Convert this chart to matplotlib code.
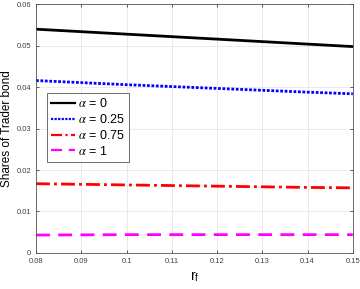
import matplotlib.pyplot as plt
import numpy as np

plt.rcParams['font.family'] = ['Liberation Sans', 'DejaVu Sans']
plt.rcParams['mathtext.fontset'] = 'stix'

rf = [0.08, 0.10, 0.12, 0.14, 0.15]
alpha0 = [0.0540, 0.0528, 0.0516, 0.0504, 0.0498]
alpha025 = [0.0416, 0.0406, 0.0397, 0.0388, 0.0384]
alpha075 = [0.0167, 0.0164, 0.0161, 0.0158, 0.0157]
alpha1 = [0.0043, 0.0044, 0.0044, 0.0044, 0.0044]

fig = plt.figure(figsize=(3.6, 2.89), dpi=100)
ax = fig.add_axes([0.1, 0.125, 0.88, 0.86])

ax.plot(rf, alpha0, color='black', lw=2, ls='-', label=r'$\alpha$ = 0')
ax.plot(rf, alpha025, color='blue', lw=2, ls=(0, (1, 0.6)), label=r'$\alpha$ = 0.25')
ax.plot(rf, alpha075, color='red', lw=2, ls=(0, (5, 1.5, 1, 1.5)), label=r'$\alpha$ = 0.75')
ax.plot(rf, alpha1, color='magenta', lw=2, ls=(0, (5, 3)), label=r'$\alpha$ = 1')

ax.set_xlim(0.08, 0.15)
ax.set_ylim(0, 0.06)
ax.set_xticks([0.08, 0.09, 0.1, 0.11, 0.12, 0.13, 0.14, 0.15])
ax.set_xticklabels(['0.08', '0.09', '0.1', '0.11', '0.12', '0.13', '0.14', '0.15'])
ax.set_yticks([0, 0.01, 0.02, 0.03, 0.04, 0.05, 0.06])
ax.set_yticklabels(['0', '0.01', '0.02', '0.03', '0.04', '0.05', '0.06'])
ax.tick_params(labelsize=5.5, direction='in', top=True, right=True, length=2.5,
               colors='#404040', width=0.6)
ax.grid(True, color='#e6e6e6', lw=0.6)
for s in ax.spines.values():
    s.set_color('#555555')
    s.set_linewidth(0.6)

ax.set_ylabel('Shares of Trader bond', fontsize=8.5, labelpad=2.5)
ax.set_xlabel(r'r$_\mathregular{f}$', fontsize=10, labelpad=3)

leg = ax.legend(loc='upper left', bbox_to_anchor=(0.035, 0.643), fontsize=9,
                handlelength=1.9, handletextpad=0.2, labelspacing=0.22,
                borderpad=0.35, borderaxespad=0, fancybox=False, framealpha=1,
                edgecolor='#555555')
leg.get_frame().set_linewidth(0.6)
for h in leg.get_lines():
    h.set_linewidth(1.6)

fig.savefig('out.png', dpi=100)
